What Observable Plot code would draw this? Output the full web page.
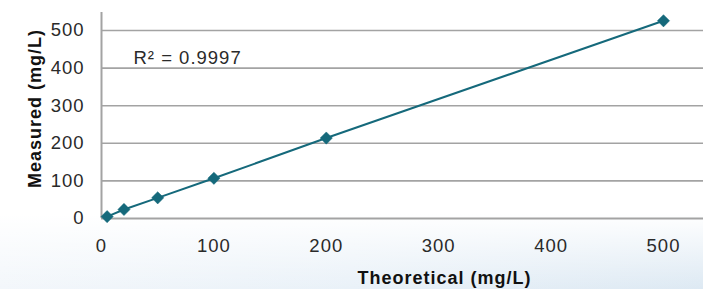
<!DOCTYPE html>
<html>
<head>
<meta charset="utf-8">
<script src="https://cdn.jsdelivr.net/npm/d3@7"></script>
<script src="https://cdn.jsdelivr.net/npm/@observablehq/plot@0.6"></script>
<style>
  html, body { margin: 0; padding: 0; }
  body {
    width: 703px; height: 289px; overflow: hidden;
    background:
      linear-gradient(to bottom, rgba(255,255,255,1) 0px, rgba(255,255,255,1) 214px, rgba(255,255,255,0) 289px),
      linear-gradient(to right, #f3f7fb 0%, #e9f1f8 50%, #dde9f3 100%);
  }
  svg { display: block; background: transparent !important; }
  svg text { letter-spacing: 1px; }
</style>
</head>
<body>
<div id="chart"></div>
<script>
const theoretical = [5, 20, 50, 100, 200, 500];
const measured = [5, 24, 55, 107, 214, 526];
const yTicks = [0, 100, 200, 300, 400, 500];
const xTicks = [0, 100, 200, 300, 400, 500];
const annotation = "R\u00b2 = 0.9997";
const xTitle = "Theoretical (mg/L)";
const yTitle = "Measured (mg/L)";

const data = theoretical.map((t, i) => ({x: t, y: measured[i]}));
const teal = "#15697b";
const grid = "#a3a3a3";
const font = "'Liberation Sans', Arial, sans-serif";

const chart = Plot.plot({
  width: 703,
  height: 289,
  marginLeft: 101,
  marginRight: 0,
  marginTop: 12,
  marginBottom: 71,
  style: {fontFamily: font, background: "transparent", overflow: "visible"},
  x: {domain: [0, 535.6]},
  y: {domain: [0, 548]},
  marks: [
    Plot.ruleY(yTicks.filter(d => d > 0), {stroke: grid, strokeWidth: 1.6}),
    Plot.ruleY([0], {stroke: grid, strokeWidth: 2, x1: 0, x2: 535.6}),
    Plot.ruleX([0], {stroke: grid, strokeWidth: 2, y1: 0, y2: 548}),
    Plot.axisY({ticks: yTicks, tickSize: 0, tickPadding: 17, label: null,
      fontSize: 18.5, fill: "#2a2a2a"}),
    Plot.axisX({ticks: xTicks, tickSize: 0, tickPadding: 20, label: null,
      fontSize: 18.5, fill: "#2a2a2a"}),
    Plot.line(data, {x: "x", y: "y", stroke: teal, strokeWidth: 2}),
    Plot.dot(data, {x: "x", y: "y", symbol: "diamond2", r: 5.5, fill: teal, stroke: teal, strokeWidth: 0.5}),
    Plot.text([annotation], {frameAnchor: "top-left", dx: 32, dy: 38, textAnchor: "start",
      fontSize: 18.5, fill: "#2a2a2a", fontFamily: font}),
    Plot.text([xTitle], {frameAnchor: "bottom", dx: 42, dy: 65, fontSize: 18,
      fontWeight: "bold", fill: "#111", fontFamily: font}),
    Plot.text([yTitle], {frameAnchor: "left", textAnchor: "middle", lineAnchor: "middle",
      dx: -66, dy: -7, rotate: -90, fontSize: 18,
      fontWeight: "bold", fill: "#111", fontFamily: font})
  ]
});
document.getElementById("chart").appendChild(chart);
</script>
</body>
</html>
